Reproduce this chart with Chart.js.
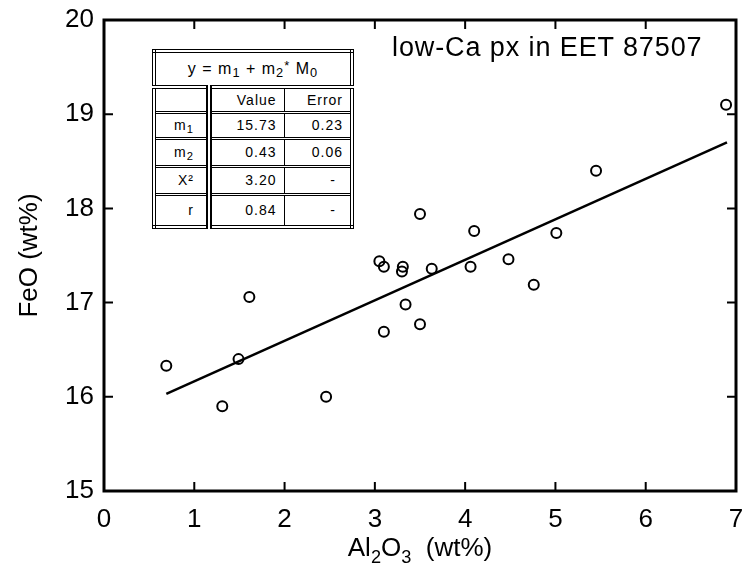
<!DOCTYPE html>
<html><head><meta charset="utf-8">
<script src="https://cdn.jsdelivr.net/npm/chart.js@4.4.1/dist/chart.umd.min.js"></script>
<style>
html,body{margin:0;padding:0;background:#fff;}
#wrap{position:relative;width:744px;height:576px;font-family:"Liberation Sans",Arial,Helvetica,sans-serif;color:#000;overflow:hidden;}
#c{position:absolute;left:0;top:0;}
.note{position:absolute;left:392px;top:31px;font-size:27px;line-height:32px;letter-spacing:0.9px;white-space:nowrap;}
.xtitle{position:absolute;left:104px;width:632px;top:532px;text-align:center;font-size:26px;line-height:30px;white-space:nowrap;}
.xtitle sub{font-size:70%;vertical-align:baseline;position:relative;top:7px;}
table.fit{position:absolute;left:152px;top:49px;width:202px;height:176px;border-collapse:collapse;border:4px double #000;font-size:14px;letter-spacing:1px;background:#fff;}
table.fit td{border-bottom:3px double #000;padding:0 7px 0 0;text-align:right;}
table.fit td.c1{border-right:6px double #000;padding-right:12px;}
table.fit td.c2{border-right:1px solid #000;}
table.fit td.dash{padding-right:14px;}
table.fit td.head{text-align:center;padding:0;border-bottom:4px double #000;font-size:16px;}
table.fit sub{font-size:80%;vertical-align:baseline;position:relative;top:3px;}
table.fit sup{font-size:80%;vertical-align:baseline;position:relative;top:-4px;}
</style>
</head><body>
<div id="wrap">
<canvas id="c" width="744" height="576"></canvas>
<div class="note">low-Ca px in EET 87507</div>
<div class="xtitle">Al<sub>2</sub>O<sub>3</sub>&nbsp; (wt%)</div>
<table class="fit">
<tr style="height:36px"><td class="head" colspan="3">y = m<sub>1</sub> + m<sub>2</sub><sup>*</sup> M<sub>0</sub></td></tr>
<tr style="height:25px"><td class="c1"></td><td class="c2">Value</td><td>Error</td></tr>
<tr style="height:26px"><td class="c1">m<sub>1</sub></td><td class="c2">15.73</td><td>0.23</td></tr>
<tr style="height:28px"><td class="c1">m<sub>2</sub></td><td class="c2">0.43</td><td>0.06</td></tr>
<tr style="height:28px"><td class="c1">X²</td><td class="c2">3.20</td><td class="dash">-</td></tr>
<tr style="height:33px"><td class="c1" style="border-bottom:none">r</td><td class="c2" style="border-bottom:none">0.84</td><td class="dash" style="border-bottom:none">-</td></tr>
</table>
</div>
<script>
// Data
const al2o3 = [0.69, 1.49, 1.61, 1.31, 2.46, 3.05, 3.10, 3.31, 3.30, 3.34, 3.10, 3.50, 3.50, 3.63, 4.06, 4.10, 4.48, 4.76, 5.01, 5.45, 6.89];
const feo   = [16.33, 16.40, 17.06, 15.90, 16.00, 17.44, 17.38, 17.38, 17.33, 16.98, 16.69, 17.94, 16.77, 17.36, 17.38, 17.76, 17.46, 17.19, 17.74, 18.40, 19.10];
const fitX = [0.69, 6.90];
const fitY = [16.03, 18.70];
const xTicks = [0, 1, 2, 3, 4, 5, 6, 7];
const yTicks = [15, 16, 17, 18, 19, 20];

const FONT = '"Liberation Sans", Arial, Helvetica, sans-serif';

const framePlugin = {
  id: 'frame',
  afterDraw(chart) {
    const {ctx, chartArea: a, scales: {x, y}} = chart;
    ctx.save();
    ctx.strokeStyle = '#000';
    ctx.lineWidth = 3;
    ctx.strokeRect(a.left, a.top, a.right - a.left, a.bottom - a.top);
    ctx.lineWidth = 2;
    const L = 9;
    ctx.beginPath();
    xTicks.forEach(v => {
      const px = x.getPixelForValue(v);
      ctx.moveTo(px, a.bottom); ctx.lineTo(px, a.bottom - L);
      ctx.moveTo(px, a.top); ctx.lineTo(px, a.top + L);
    });
    yTicks.forEach(v => {
      const py = y.getPixelForValue(v);
      ctx.moveTo(a.left, py); ctx.lineTo(a.left + L, py);
      ctx.moveTo(a.right, py); ctx.lineTo(a.right - L, py);
    });
    ctx.stroke();
    ctx.restore();
  }
};

new Chart(document.getElementById('c'), {
  type: 'scatter',
  data: {
    datasets: [
      {
        label: 'data',
        data: al2o3.map((v, i) => ({x: v, y: feo[i]})),
        pointStyle: 'circle',
        pointRadius: 5,
        pointBorderWidth: 2,
        pointBorderColor: '#000',
        pointBackgroundColor: 'rgba(0,0,0,0)',
        showLine: false
      },
      {
        label: 'fit',
        data: fitX.map((v, i) => ({x: v, y: fitY[i]})),
        showLine: true,
        borderColor: '#000',
        borderWidth: 2.5,
        pointRadius: 0,
        fill: false
      }
    ]
  },
  options: {
    responsive: false,
    animation: false,
    devicePixelRatio: 1,
    layout: {padding: {top: 20, right: 8, left: 0, bottom: 0}},
    plugins: {legend: {display: false}, tooltip: {enabled: false}, title: {display: false}},
    scales: {
      x: {
        type: 'linear', min: 0, max: 7,
        afterBuildTicks: s => { s.ticks = xTicks.map(v => ({value: v})); },
        afterFit: s => { s.height = 85; s.paddingLeft = 0; s.paddingRight = 0; },
        grid: {display: false, drawTicks: false},
        border: {display: false},
        ticks: {color: '#000', font: {family: FONT, size: 26}, padding: 13, maxRotation: 0}
      },
      y: {
        type: 'linear', min: 15, max: 20,
        afterBuildTicks: s => { s.ticks = yTicks.map(v => ({value: v})); },
        afterFit: s => { s.width = 104; s.paddingTop = 0; s.paddingBottom = 0; },
        grid: {display: false, drawTicks: false},
        border: {display: false},
        ticks: {color: '#000', font: {family: FONT, size: 26}, padding: 10},
        title: {display: true, text: 'FeO (wt%)', color: '#000', font: {family: FONT, size: 26}, padding: {top: 14, bottom: 0}}
      }
    }
  },
  plugins: [framePlugin]
});
</script>
</body></html>
